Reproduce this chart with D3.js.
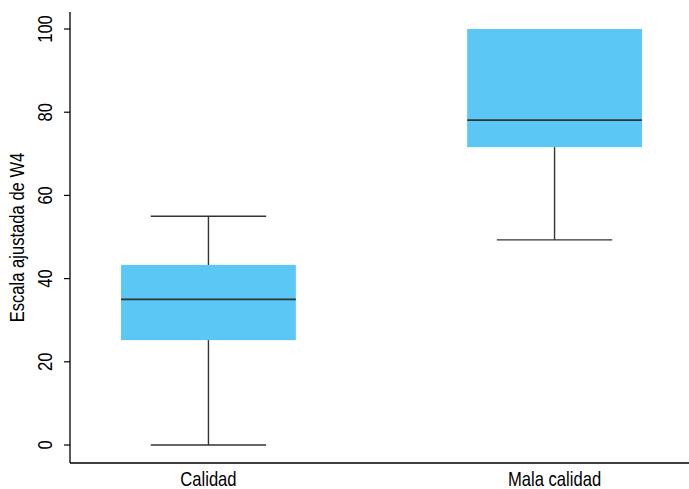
<!DOCTYPE html>
<html>
<head>
<meta charset="utf-8">
<script src="https://cdn.jsdelivr.net/npm/d3@7"></script>
<style>
  body { margin: 0; background: #fff; overflow: hidden; }
  svg { display: block; }
  svg text { font-family: "Liberation Sans", Arial, sans-serif; fill: #000; }
</style>
</head>
<body>
<svg id="chart" width="689" height="489"></svg>
<script>
// box plot values
var categories = ["Calidad", "Mala calidad"];
var whiskerLow = [0, 49.3];
var q1 = [25.2, 71.6];
var medians = [35, 78.1];
var q3 = [43.3, 100];
var whiskerHigh = [55, 100];
var yTicks = [0, 20, 40, 60, 80, 100];

var svg = d3.select("#chart"),
    plotLeft = 70, plotBottom = 463, plotTop = 12,
    narrow = 0.83; // condensed look for the labels

var x = d3.scalePoint()
    .domain(categories)
    .range([plotLeft, 693])
    .padding(0.4);

var y = d3.scaleLinear()
    .domain([0, 100])
    .range([445, 29]);

var step = x.step(),
    boxW = step * 0.505,
    capW = boxW * 0.66;

var data = categories.map(function(c, i) {
  return {cat: c, lo: whiskerLow[i], q1: q1[i], med: medians[i], q3: q3[i], hi: whiskerHigh[i]};
});

var g = svg.append("g");

// whiskers
g.selectAll(".whisk").data(data).enter().append("line")
    .attr("x1", function(d) { return x(d.cat); })
    .attr("x2", function(d) { return x(d.cat); })
    .attr("y1", function(d) { return y(d.lo); })
    .attr("y2", function(d) { return y(d.hi); })
    .attr("stroke", "#333").attr("stroke-width", 1.4);

g.selectAll(".cap-lo").data(data).enter().append("line")
    .attr("x1", function(d) { return x(d.cat) - capW / 2; })
    .attr("x2", function(d) { return x(d.cat) + capW / 2; })
    .attr("y1", function(d) { return y(d.lo); })
    .attr("y2", function(d) { return y(d.lo); })
    .attr("stroke", "#333").attr("stroke-width", 1.4);

g.selectAll(".cap-hi").data(data.filter(function(d) { return d.hi > d.q3; })).enter().append("line")
    .attr("x1", function(d) { return x(d.cat) - capW / 2; })
    .attr("x2", function(d) { return x(d.cat) + capW / 2; })
    .attr("y1", function(d) { return y(d.hi); })
    .attr("y2", function(d) { return y(d.hi); })
    .attr("stroke", "#333").attr("stroke-width", 1.4);

// boxes
g.selectAll(".box").data(data).enter().append("rect")
    .attr("x", function(d) { return x(d.cat) - boxW / 2; })
    .attr("width", boxW)
    .attr("y", function(d) { return y(d.q3); })
    .attr("height", function(d) { return y(d.q1) - y(d.q3); })
    .attr("fill", "#5bc7f5");

g.selectAll(".med").data(data).enter().append("line")
    .attr("x1", function(d) { return x(d.cat) - boxW / 2; })
    .attr("x2", function(d) { return x(d.cat) + boxW / 2; })
    .attr("y1", function(d) { return y(d.med); })
    .attr("y2", function(d) { return y(d.med); })
    .attr("stroke", "#333").attr("stroke-width", 1.6);

// axes
svg.append("line")
    .attr("x1", plotLeft).attr("x2", plotLeft).attr("y1", plotTop).attr("y2", plotBottom)
    .attr("stroke", "#000").attr("stroke-width", 1.3);
svg.append("line")
    .attr("x1", plotLeft).attr("x2", 689).attr("y1", plotBottom).attr("y2", plotBottom)
    .attr("stroke", "#000").attr("stroke-width", 1.3);

var yt = svg.append("g").selectAll("g").data(yTicks).enter().append("g");
yt.append("line")
    .attr("x1", plotLeft - 6).attr("x2", plotLeft)
    .attr("y1", function(d) { return y(d); })
    .attr("y2", function(d) { return y(d); })
    .attr("stroke", "#000").attr("stroke-width", 1.2);
yt.append("text")
    .attr("transform", function(d) { return "translate(52," + y(d) + ") rotate(-90) scale(" + narrow + ",1)"; })
    .attr("text-anchor", "middle")
    .style("font-size", "20px")
    .text(function(d) { return d; });

svg.append("g").selectAll("text").data(categories).enter().append("text")
    .attr("transform", function(d) { return "translate(" + x(d) + ",486) scale(" + narrow + ",1)"; })
    .attr("text-anchor", "middle")
    .style("font-size", "20px")
    .text(function(d) { return d; });

svg.append("text")
    .attr("transform", "translate(24," + ((plotTop + plotBottom) / 2) + ") rotate(-90) scale(" + narrow + ",1)")
    .attr("text-anchor", "middle")
    .style("font-size", "20px")
    .text("Escala ajustada de W4");
</script>
</body>
</html>
